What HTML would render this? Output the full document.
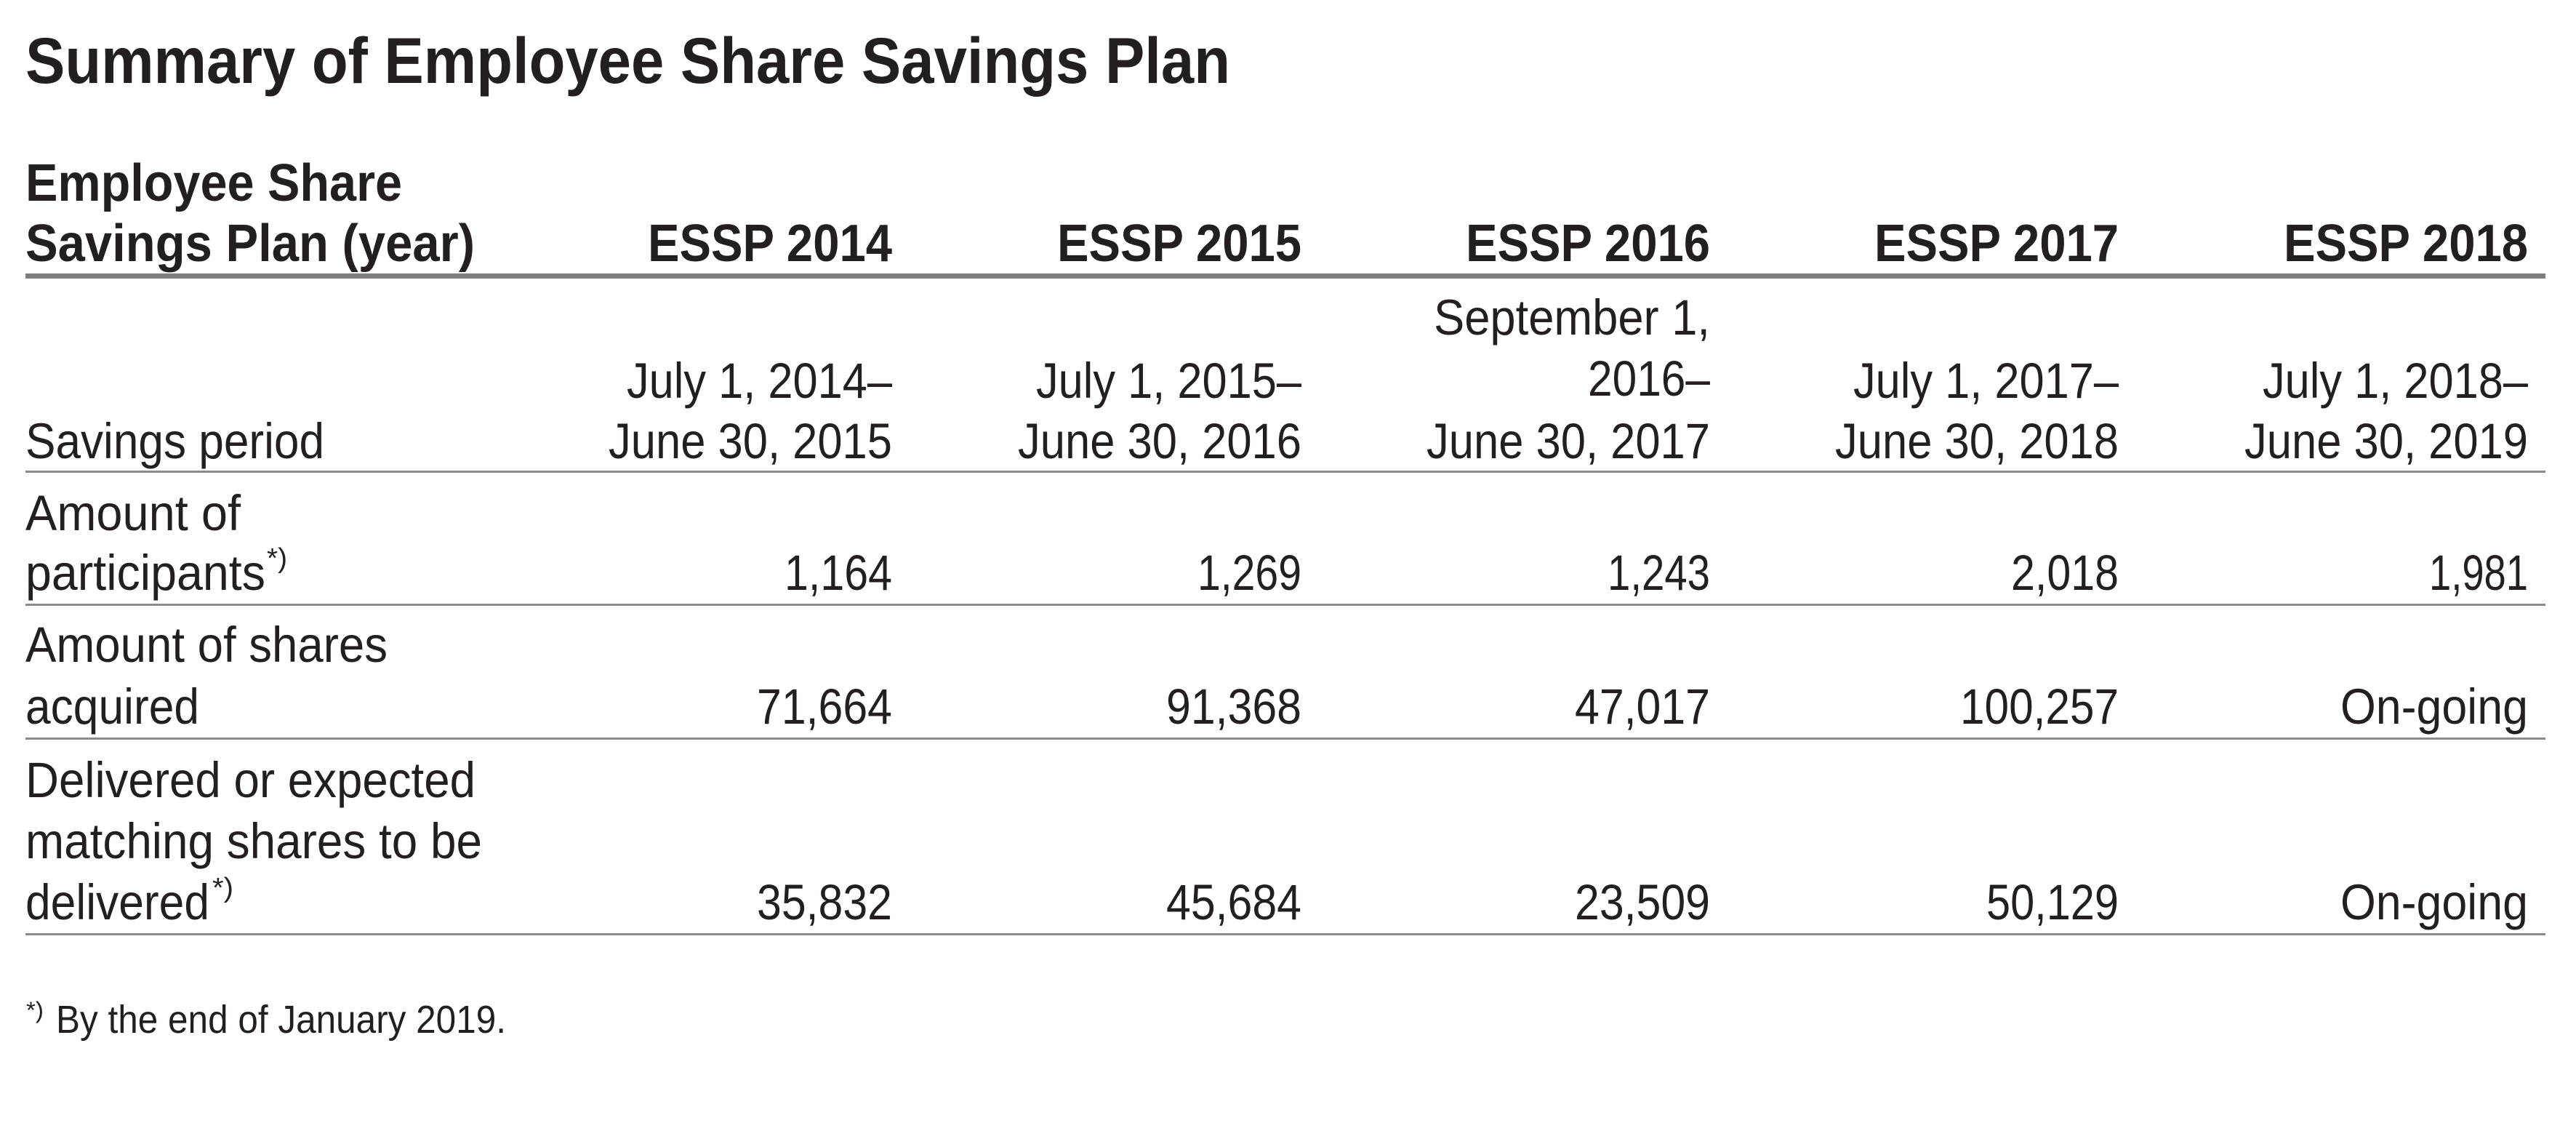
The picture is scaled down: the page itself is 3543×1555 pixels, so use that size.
<!DOCTYPE html>
<html><head><meta charset="utf-8"><style>
html,body{margin:0;padding:0;background:#fff;}
svg{display:block;}
text{font-family:"Liberation Sans",sans-serif;fill:#231f20;}
.b{font-weight:bold;}
.r{font-size:69px;}
.h{font-size:72px;}
</style></head><body>
<svg width="3543" height="1555" viewBox="0 0 3543 1555" xmlns="http://www.w3.org/2000/svg">
<rect width="3543" height="1555" fill="#fff"/>
<text class="b" x="35" y="114" font-size="89" textLength="1657" lengthAdjust="spacingAndGlyphs">Summary of Employee Share Savings Plan</text>

<text class="b h" x="35" y="276" textLength="518" lengthAdjust="spacingAndGlyphs">Employee Share</text>
<text class="b h" x="35" y="359" textLength="618" lengthAdjust="spacingAndGlyphs">Savings Plan (year)</text>
<g class="b h" text-anchor="end">
<text x="1227" y="359" textLength="336" lengthAdjust="spacingAndGlyphs">ESSP 2014</text>
<text x="1790" y="359" textLength="336" lengthAdjust="spacingAndGlyphs">ESSP 2015</text>
<text x="2352" y="359" textLength="336" lengthAdjust="spacingAndGlyphs">ESSP 2016</text>
<text x="2914" y="359" textLength="336" lengthAdjust="spacingAndGlyphs">ESSP 2017</text>
<text x="3477" y="359" textLength="336" lengthAdjust="spacingAndGlyphs">ESSP 2018</text>
</g>
<rect x="35" y="376" width="3466" height="7" fill="#808080"/>

<text class="r" x="35" y="630" textLength="411" lengthAdjust="spacingAndGlyphs">Savings period</text>
<g class="r" text-anchor="end">
<text x="1227" y="547" textLength="365" lengthAdjust="spacingAndGlyphs">July 1, 2014–</text>
<text x="1227" y="630" textLength="390" lengthAdjust="spacingAndGlyphs">June 30, 2015</text>
<text x="1790" y="547" textLength="365" lengthAdjust="spacingAndGlyphs">July 1, 2015–</text>
<text x="1790" y="630" textLength="390" lengthAdjust="spacingAndGlyphs">June 30, 2016</text>
<text x="2352" y="460" textLength="380" lengthAdjust="spacingAndGlyphs">September 1,</text>
<text x="2352" y="544" textLength="168" lengthAdjust="spacingAndGlyphs">2016–</text>
<text x="2352" y="630" textLength="390" lengthAdjust="spacingAndGlyphs">June 30, 2017</text>
<text x="2914" y="547" textLength="365" lengthAdjust="spacingAndGlyphs">July 1, 2017–</text>
<text x="2914" y="630" textLength="390" lengthAdjust="spacingAndGlyphs">June 30, 2018</text>
<text x="3477" y="547" textLength="365" lengthAdjust="spacingAndGlyphs">July 1, 2018–</text>
<text x="3477" y="630" textLength="390" lengthAdjust="spacingAndGlyphs">June 30, 2019</text>
</g>
<rect x="35" y="647" width="3466" height="3" fill="#8a8a8a"/>

<text class="r" x="35" y="729" textLength="296" lengthAdjust="spacingAndGlyphs">Amount of</text>
<text class="r" x="35" y="811" textLength="330" lengthAdjust="spacingAndGlyphs">participants</text>
<text x="367" y="780" font-size="38" textLength="28" lengthAdjust="spacingAndGlyphs">*)</text>
<g class="r" text-anchor="end">
<text x="1227" y="811" textLength="148" lengthAdjust="spacingAndGlyphs">1,164</text>
<text x="1790" y="811" textLength="143" lengthAdjust="spacingAndGlyphs">1,269</text>
<text x="2352" y="811" textLength="141" lengthAdjust="spacingAndGlyphs">1,243</text>
<text x="2914" y="811" textLength="148" lengthAdjust="spacingAndGlyphs">2,018</text>
<text x="3477" y="811" textLength="136" lengthAdjust="spacingAndGlyphs">1,981</text>
</g>
<rect x="35" y="830" width="3466" height="3" fill="#8a8a8a"/>

<text class="r" x="35" y="910" textLength="498" lengthAdjust="spacingAndGlyphs">Amount of shares</text>
<text class="r" x="35" y="995" textLength="239" lengthAdjust="spacingAndGlyphs">acquired</text>
<g class="r" text-anchor="end">
<text x="1227" y="995" textLength="186" lengthAdjust="spacingAndGlyphs">71,664</text>
<text x="1790" y="995" textLength="186" lengthAdjust="spacingAndGlyphs">91,368</text>
<text x="2352" y="995" textLength="186" lengthAdjust="spacingAndGlyphs">47,017</text>
<text x="2914" y="995" textLength="218" lengthAdjust="spacingAndGlyphs">100,257</text>
<text x="3477" y="995" textLength="258" lengthAdjust="spacingAndGlyphs">On-going</text>
</g>
<rect x="35" y="1014" width="3466" height="3" fill="#8a8a8a"/>

<text class="r" x="35" y="1096" textLength="619" lengthAdjust="spacingAndGlyphs">Delivered or expected</text>
<text class="r" x="35" y="1180" textLength="628" lengthAdjust="spacingAndGlyphs">matching shares to be</text>
<text class="r" x="35" y="1264" textLength="253" lengthAdjust="spacingAndGlyphs">delivered</text>
<text x="292" y="1233" font-size="38" textLength="29" lengthAdjust="spacingAndGlyphs">*)</text>
<g class="r" text-anchor="end">
<text x="1227" y="1264" textLength="186" lengthAdjust="spacingAndGlyphs">35,832</text>
<text x="1790" y="1264" textLength="186" lengthAdjust="spacingAndGlyphs">45,684</text>
<text x="2352" y="1264" textLength="186" lengthAdjust="spacingAndGlyphs">23,509</text>
<text x="2914" y="1264" textLength="182" lengthAdjust="spacingAndGlyphs">50,129</text>
<text x="3477" y="1264" textLength="258" lengthAdjust="spacingAndGlyphs">On-going</text>
</g>
<rect x="35" y="1283" width="3466" height="3" fill="#8a8a8a"/>

<text x="36" y="1400" font-size="32" textLength="24" lengthAdjust="spacingAndGlyphs">*)</text>
<text x="77" y="1420" font-size="54" textLength="619" lengthAdjust="spacingAndGlyphs">By the end of January 2019.</text>
</svg>
</body></html>
